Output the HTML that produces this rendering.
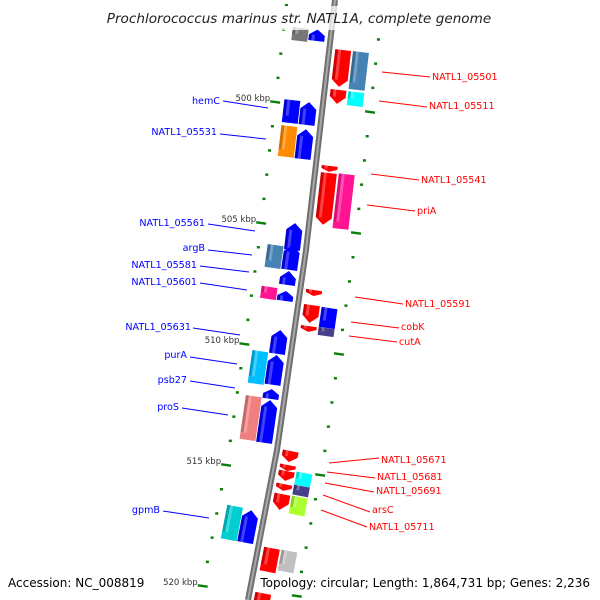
<!DOCTYPE html>
<html><head><meta charset="utf-8"><style>
html,body{margin:0;padding:0;background:#fff;}
svg{display:block;font-family:"DejaVu Sans","Liberation Sans",sans-serif;}
</style></head><body>
<svg id="chart" width="600" height="600" viewBox="0 0 600 600" xmlns="http://www.w3.org/2000/svg">
<g id="ticks"></g>
<path d="M335,0 L306,250 L277,450 L248,600" stroke="#6f6f6f" stroke-width="6" fill="none"/>
<path d="M335,0 L306,250 L277,450 L248,600" stroke="#a8a8a8" stroke-width="2" fill="none"/>
<g id="genes"></g>
<g id="labels"></g>
<rect x="100" y="6" width="400" height="24" fill="#fff" opacity="0.75"/>
<text x="299" y="23" text-anchor="middle" font-size="13.6" font-style="italic" fill="#222">Prochlorococcus marinus str. NATL1A, complete genome</text>
<text x="8" y="587" font-size="12" fill="#000">Accession: NC_008819</text>
<text x="590" y="587" text-anchor="end" font-size="12" fill="#000">Topology: circular; Length: 1,864,731 bp; Genes: 2,236</text>
</svg>
<script>
// gene data (kbp positions)
const geneStart = [496.94,497.0,497.85,497.93,499.50,499.59,502.64,502.93,502.98,507.77,508.39,509.26,508.51,509.34,514.42,515.0,515.25,515.79,516.20,515.33,515.87,516.32,518.43,518.55,520.3,499.92,500.0,500.99,501.12,505.0,505.91,505.91,506.98,507.64,507.81,509.42,510.29,510.45,511.86,512.15,512.31,516.69,516.86];
const geneEnd   = [497.48,497.48,499.38,499.50,500.08,500.17,502.89,505.08,505.25,508.02,509.13,509.50,509.34,509.67,514.88,515.25,515.66,516.07,516.86,515.87,516.28,517.07,519.42,519.42,521.0,500.87,500.95,502.27,502.36,506.12,506.86,506.94,507.56,508.14,508.22,510.41,511.65,511.69,512.27,513.97,514.09,518.1,518.22];
const geneLane  = [-2,-1,1,2,1,2,1,1,2,1,1,1,2,2,1,1,1,1,1,2,2,2,1,2,1,-2,-1,-2,-1,-1,-2,-1,-1,-2,-1,-1,-2,-1,-1,-2,-1,-2,-1];
const geneDir   = ['n','u','d','n','d','n','d','d','n','d','d','d','n','n','d','d','d','d','d','n','n','n','n','n','n','n','u','n','u','u','n','u','u','n','u','u','n','u','u','n','u','n','u'];
const geneColor = ['#777','#0000ff','#ff0000','#4682b4','#ff0000','#00ffff','#ff0000','#ff0000','#ff1493','#ff0000','#ff0000','#ff0000','#0000ff','#483d8b','#ff0000','#ff0000','#ff0000','#ff0000','#ff0000','#00ffff','#483d8b','#adff2f','#ff0000','#c0c0c0','#ff0000','#0000ff','#0000ff','#ff8c00','#0000ff','#0000ff','#4682b4','#0000ff','#0000ff','#ff1493','#0000ff','#0000ff','#00bfff','#0000ff','#0000ff','#f08080','#0000ff','#00ced1','#0000ff'];
const majorTicks = [500,505,510,515,520];
const tickLabels = ['500 kbp','505 kbp','510 kbp','515 kbp','520 kbp'];

const NS='http://www.w3.org/2000/svg';
const pts=[[0,335],[250,306],[450,277],[600,248]];
function bx(y){for(let i=0;i<pts.length-1;i++){const a=pts[i],b=pts[i+1];if(y<=b[0]||i==pts.length-2){return a[1]+(b[1]-a[1])*(y-a[0])/(b[0]-a[0]);}}}
function slope(y){return (bx(y+1)-bx(y-1))/2;}
function yPos(k){return 102+(k-500)*24.2;}
function laneX(lane){return lane==-2?-31:lane==-1?-14:lane==1?14:32;}
function mk(t,a){const e=document.createElementNS(NS,t);for(const k in a)e.setAttribute(k,a[k]);return e;}

// ticks
const tg=document.getElementById('ticks');
for(let k=496;k<=521;k++){
  [-1,1].forEach(side=>{
    const y=yPos(k)+(side>0?10:0);
    if(y<-5||y>605)return;
    const x=bx(y)+side*48;
    const major=majorTicks.includes(k);
    const r=mk('rect',{x:major?x-5:x-1.5,y:y-1.2,width:major?10:3,height:major?2.4:2.5,fill:'#0a800a'});
    
    
    if(major)r.setAttribute('transform','rotate(8,'+x+','+y+')');
    tg.appendChild(r);
    if(major&&side<0){
      const t=mk('text',{x:x-5,y:y-1,'text-anchor':'end','font-size':'8.5',fill:'#333'});
      t.textContent=tickLabels[majorTicks.indexOf(k)];
      
      
      tg.appendChild(t);
    }
  });
}

// genes
const gg=document.getElementById('genes');
for(let i=0;i<geneStart.length;i++){
  const y1=yPos(geneStart[i]),y2=yPos(geneEnd[i]);
  const cy=(y1+y2)/2,h=y2-y1;
  const cx=bx(cy)+laneX(geneLane[i]);
  const ang=-Math.atan(slope(cy))*180/Math.PI;
  const g=mk('g',{transform:`translate(${cx},${cy}) rotate(${ang})`});
  
  
  const w=8,hh=h/2,ah=Math.min(7,h*0.5);
  let d;
  if(geneDir[i]=='u')d=`M${-w},${hh} L${-w},${-hh+ah} L0,${-hh} L${w},${-hh+ah} L${w},${hh} Z`;
  else if(geneDir[i]=='d')d=`M${-w},${-hh} L${w},${-hh} L${w},${hh-ah} L0,${hh} L${-w},${hh-ah} Z`;
  else d=`M${-w},${-hh} L${w},${-hh} L${w},${hh} L${-w},${hh} Z`;
  g.appendChild(mk('path',{d:d,fill:geneColor[i]}));
  g.appendChild(mk('rect',{x:-w,y:-hh+(geneDir[i]=='u'?ah:0),width:3,height:Math.max(0,h-ah),fill:'#000',opacity:0.18}));
  g.appendChild(mk('rect',{x:-w+3,y:-hh+(geneDir[i]=='u'?ah:0),width:3,height:Math.max(0,h-ah),fill:'#fff',opacity:0.25}));
  gg.appendChild(g);
}

// labels
const labelText=['hemC','NATL1_05531','NATL1_05561','argB','NATL1_05581','NATL1_05601','NATL1_05631','purA','psb27','proS','gpmB','NATL1_05501','NATL1_05511','NATL1_05541','priA','NATL1_05591','cobK','cutA','NATL1_05671','NATL1_05681','NATL1_05691','arsC','NATL1_05711'];
const lab=[[220,104,223,101,268,108],[217,135,220,134,266,139],[205,226,208,224,255,231],[205,251,208,250,252,255],[197,268,200,266,249,272],[197,285,200,283,247,290],[191,330,193,328,240,335],[187,358,190,357,237,364],[187,383,190,381,235,388],[179,410,182,408,228,415],[160,513,163,511,209,518],
[432,80,382,72,430,77],[429,109,379,101,427,107],[421,183,371,174,419,180],[417,214,367,205,415,211],[405,307,355,297,403,304],[401,330,351,322,399,328],[399,345,349,336,397,342],[381,463,329,463,379,458],[377,480,327,472,375,478],[376,494,325,483,374,492],[372,513,323,495,370,512],[369,530,321,510,367,527]];
const lg=document.getElementById('labels');
labelText.forEach((s,i)=>{
  const L=lab[i],left=i<11,c=left?'#0000ff':'#ff0000';
  const ln=mk('line',{x1:L[2],y1:L[3],x2:L[4],y2:L[5],stroke:c,'stroke-width':1});
  
  
  lg.appendChild(ln);
  const t=mk('text',{x:L[0],y:L[1],'text-anchor':left?'end':'start','font-size':'9.6',fill:c});
  t.textContent=s;
  
  
  lg.appendChild(t);
});
</script>
</body></html>
